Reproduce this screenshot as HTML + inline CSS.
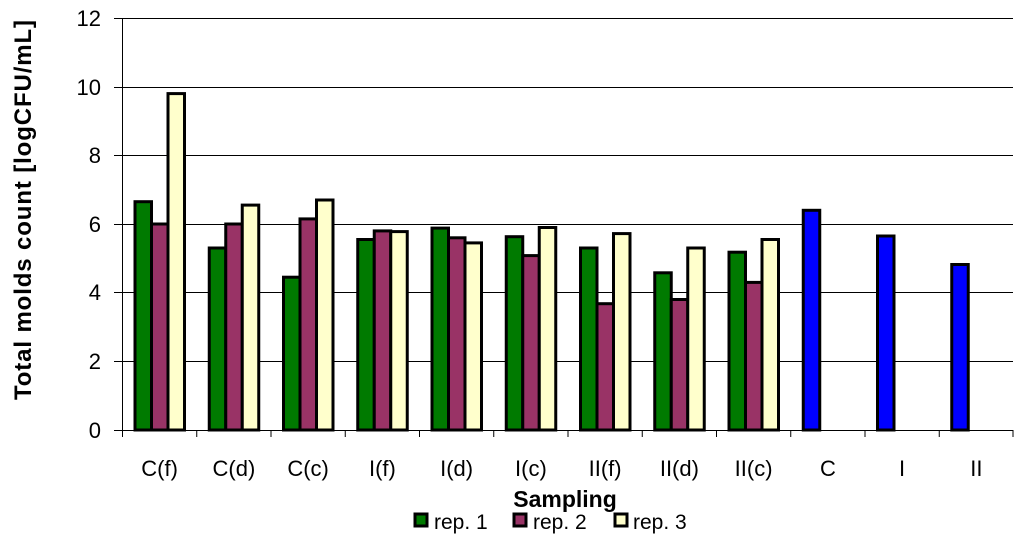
<!DOCTYPE html>
<html><head><style>body{margin:0;background:#fff}svg{display:block}</style></head><body>
<svg width="1023" height="542" viewBox="0 0 1023 542" xmlns="http://www.w3.org/2000/svg" font-family="'Liberation Sans',sans-serif">
<g stroke="#000" stroke-width="1">
<line x1="114" y1="18.5" x2="1013" y2="18.5"/>
<line x1="114" y1="87.5" x2="1013" y2="87.5"/>
<line x1="114" y1="155.5" x2="1013" y2="155.5"/>
<line x1="114" y1="224.5" x2="1013" y2="224.5"/>
<line x1="114" y1="292.5" x2="1013" y2="292.5"/>
<line x1="114" y1="361.5" x2="1013" y2="361.5"/>
<line x1="114" y1="430.5" x2="1013" y2="430.5"/>
<line x1="122.5" y1="18" x2="122.5" y2="437"/>
<line x1="196.75" y1="430" x2="196.75" y2="437"/>
<line x1="271" y1="430" x2="271" y2="437"/>
<line x1="345.25" y1="430" x2="345.25" y2="437"/>
<line x1="419.5" y1="430" x2="419.5" y2="437"/>
<line x1="493.75" y1="430" x2="493.75" y2="437"/>
<line x1="568" y1="430" x2="568" y2="437"/>
<line x1="642.25" y1="430" x2="642.25" y2="437"/>
<line x1="716.5" y1="430" x2="716.5" y2="437"/>
<line x1="790.75" y1="430" x2="790.75" y2="437"/>
<line x1="865" y1="430" x2="865" y2="437"/>
<line x1="939.25" y1="430" x2="939.25" y2="437"/>
<line x1="1013" y1="430" x2="1013" y2="437"/>
</g>
<g font-size="22" text-anchor="end" fill="#000">
<text x="101" y="26">12</text><text x="101" y="95">10</text><text x="101" y="163">8</text><text x="101" y="232">6</text><text x="101" y="300">4</text><text x="101" y="369">2</text><text x="101" y="438">0</text>
</g>
<g stroke="#000" stroke-width="3">
<g fill="#007A00">
<rect x="135" y="201.7" width="16.5" height="228.3"/>
<rect x="209.25" y="248" width="16.5" height="182"/>
<rect x="283.5" y="277.2" width="16.5" height="152.8"/>
<rect x="357.75" y="239.5" width="16.5" height="190.5"/>
<rect x="432" y="228.1" width="16.5" height="201.9"/>
<rect x="506.25" y="236.7" width="16.5" height="193.3"/>
<rect x="580.5" y="248" width="16.5" height="182"/>
<rect x="654.75" y="272.8" width="16.5" height="157.2"/>
<rect x="729" y="252.2" width="16.5" height="177.8"/>
</g>
<g fill="#993366">
<rect x="151.5" y="224" width="16.5" height="206"/>
<rect x="225.75" y="224" width="16.5" height="206"/>
<rect x="300" y="218.9" width="16.5" height="211.1"/>
<rect x="374.25" y="230.9" width="16.5" height="199.1"/>
<rect x="448.5" y="237.8" width="16.5" height="192.2"/>
<rect x="522.75" y="255.6" width="16.5" height="174.4"/>
<rect x="597" y="303.7" width="16.5" height="126.3"/>
<rect x="671.25" y="299.5" width="16.5" height="130.5"/>
<rect x="745.5" y="282.4" width="16.5" height="147.6"/>
</g>
<g fill="#FFFFCC">
<rect x="168" y="93.6" width="16.5" height="336.4"/>
<rect x="242.25" y="205.1" width="16.5" height="224.9"/>
<rect x="316.5" y="200" width="16.5" height="230"/>
<rect x="390.75" y="231.6" width="16.5" height="198.4"/>
<rect x="465" y="242.9" width="16.5" height="187.1"/>
<rect x="539.25" y="227.5" width="16.5" height="202.5"/>
<rect x="613.5" y="233.6" width="16.5" height="196.4"/>
<rect x="687.75" y="248" width="16.5" height="182"/>
<rect x="762" y="239.5" width="16.5" height="190.5"/>
</g>
<g fill="#0000FF">
<rect x="803.25" y="210.3" width="16.5" height="219.7"/>
<rect x="877.5" y="236" width="16.5" height="194"/>
<rect x="951.75" y="264.5" width="16.5" height="165.5"/>
</g>
</g>
<g font-size="22" text-anchor="middle">
<text x="159.6" y="476">C(f)</text><text x="233.9" y="476">C(d)</text><text x="308.1" y="476">C(c)</text><text x="382.4" y="476">I(f)</text><text x="456.6" y="476">I(d)</text><text x="530.9" y="476">I(c)</text><text x="605.1" y="476">II(f)</text><text x="679.4" y="476">II(d)</text><text x="753.6" y="476">II(c)</text><text x="827.9" y="476">C</text><text x="902.1" y="476">I</text><text x="976.4" y="476">II</text>
</g>
<text x="565" y="507" font-size="23" font-weight="bold" text-anchor="middle">Sampling</text>
<text transform="translate(31,210) rotate(-90)" font-size="24" font-weight="bold" text-anchor="middle" textLength="380">Total molds count [logCFU/mL]</text>
<g stroke="#000" stroke-width="3">
<rect x="415" y="514" width="12" height="12" fill="#007A00"/>
<rect x="514" y="514" width="12" height="12" fill="#993366"/>
<rect x="615" y="514" width="12" height="12" fill="#FFFFCC"/>
</g>
<g font-size="21"><text x="434" y="529">rep. 1</text><text x="533" y="529">rep. 2</text><text x="633" y="529">rep. 3</text></g>
</svg>
</body></html>
